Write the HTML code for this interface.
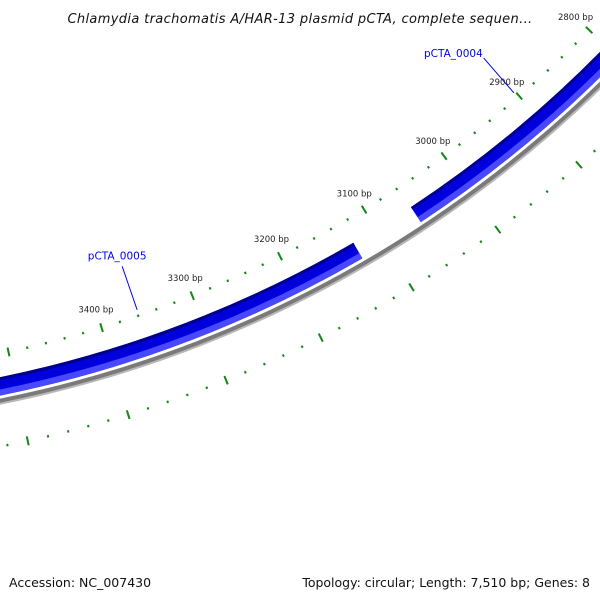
<!DOCTYPE html>
<html><head><meta charset="utf-8"><style>
html,body{margin:0;padding:0;background:#fff;}
svg{display:block;font-family:"DejaVu Sans","Liberation Sans",sans-serif;}
</style></head><body>
<svg id="map" width="600" height="600" viewBox="0 0 600 600">
<rect width="600" height="600" fill="#fff"/>
<text x="300" y="23" text-anchor="middle" font-size="13" font-style="italic" letter-spacing="0.35" fill="#111">Chlamydia trachomatis A/HAR-13 plasmid pCTA, complete sequen...</text>
<g id="ticks"></g>
<g id="genes"></g>
<g id="labels"></g>
<text x="9" y="587" font-size="12.5" fill="#111">Accession: NC_007430</text>
<text x="590" y="587" text-anchor="end" font-size="12.5" fill="#111">Topology: circular; Length: 7,510 bp; Genes: 8</text>
</svg>
<script>
const seqLength = 7510;
const tickStart = 2600;
const tickEnd = 3700;
const minorStep = 20;
const majorStep = 100;
const labelTicks = [2800, 2900, 3000, 3100, 3200, 3300, 3400];
const geneNames = ["pCTA_0004", "pCTA_0005"];
const geneStarts = [2500, 3127];
const geneEnds = [3058, 3800];
const geneLabelBp = [2902, 3359];

const CX = -235, CY = -772;
const NS = "http://www.w3.org/2000/svg";
function ang(bp){ return (-90 + bp*360/seqLength) * Math.PI/180; }
function pt(bp, r){ const a = ang(bp); return [CX + r*Math.cos(a), CY + r*Math.sin(a)]; }
function mk(tag, attrs, parent){ const e=document.createElementNS(NS,tag); for(const k in attrs) e.setAttribute(k, attrs[k]); parent.appendChild(e); return e; }
function arcBand(b0, b1, r0, r1){
  const p0=pt(b0,r1), p1=pt(b1,r1), p2=pt(b1,r0), p3=pt(b0,r0);
  const large = Math.abs(b1-b0)*360/seqLength > 180 ? 1 : 0;
  return `M${p0[0]},${p0[1]} A${r1},${r1} 0 ${large} 1 ${p1[0]},${p1[1]} L${p2[0]},${p2[1]} A${r0},${r0} 0 ${large} 0 ${p3[0]},${p3[1]} Z`;
}
const ticksG = document.getElementById('ticks');
const genesG = document.getElementById('genes');
const labelsG = document.getElementById('labels');

const rings = [1150, 1241];
for (const rc of rings) {
  for (let bp = tickStart; bp <= tickEnd; bp += minorStep) {
    const major = bp % majorStep === 0;
    const h = major ? 4.5 : 1.2;
    const a = pt(bp, rc - h), b = pt(bp, rc + h);
    const t = mk('line', {x1:a[0], y1:a[1], x2:b[0], y2:b[1], stroke:'#118811', 'stroke-width': 2}, ticksG);
    
    
  }
}

const bb = mk('path', {d: arcBand(2500, 3800, 1194, 1199), fill:'#7a7a7a'}, genesG);


const bb2 = mk('path', {d: arcBand(2500, 3800, 1198, 1200), fill:'#b8b8b8'}, genesG);



for (let i = 0; i < geneNames.length; i++) {
  const g = mk('g', {}, genesG);
  
  
  const p1 = mk('path', {d: arcBand(geneStarts[i], geneEnds[i], 1173, 1191), fill:'#0000dd'}, g);
  
  
  const p2 = mk('path', {d: arcBand(geneStarts[i], geneEnds[i], 1173, 1176), fill:'#000088'}, g);
  
  
  const p3 = mk('path', {d: arcBand(geneStarts[i], geneEnds[i], 1185, 1191), fill:'#4848ff'}, g);
  
  
  const lb = geneLabelBp[i];
  const a = pt(lb, 1144), b = pt(lb, 1098);
  const ln = mk('line', {x1:a[0], y1:a[1], x2:b[0], y2:b[1], stroke:'#0000ff', 'stroke-width':1}, g);
  
  
  const endAnchor = i === 0;
  const tx = mk('text', {x: endAnchor ? b[0]-1 : b[0]-5, y: endAnchor ? b[1]-1 : b[1]-7, 'text-anchor': endAnchor ? 'end' : 'middle', 'font-size':10.5, fill:'#0000ff'}, g);
  tx.textContent = geneNames[i];
  
  
}

for (const bp of labelTicks) {
  const p = pt(bp, 1131);
  const t = mk('text', {x:p[0], y:p[1]+3, 'text-anchor':'middle', 'font-size':8.5, fill:'#222'}, labelsG);
  t.textContent = bp + ' bp';
  
  
}
</script>
</body></html>
